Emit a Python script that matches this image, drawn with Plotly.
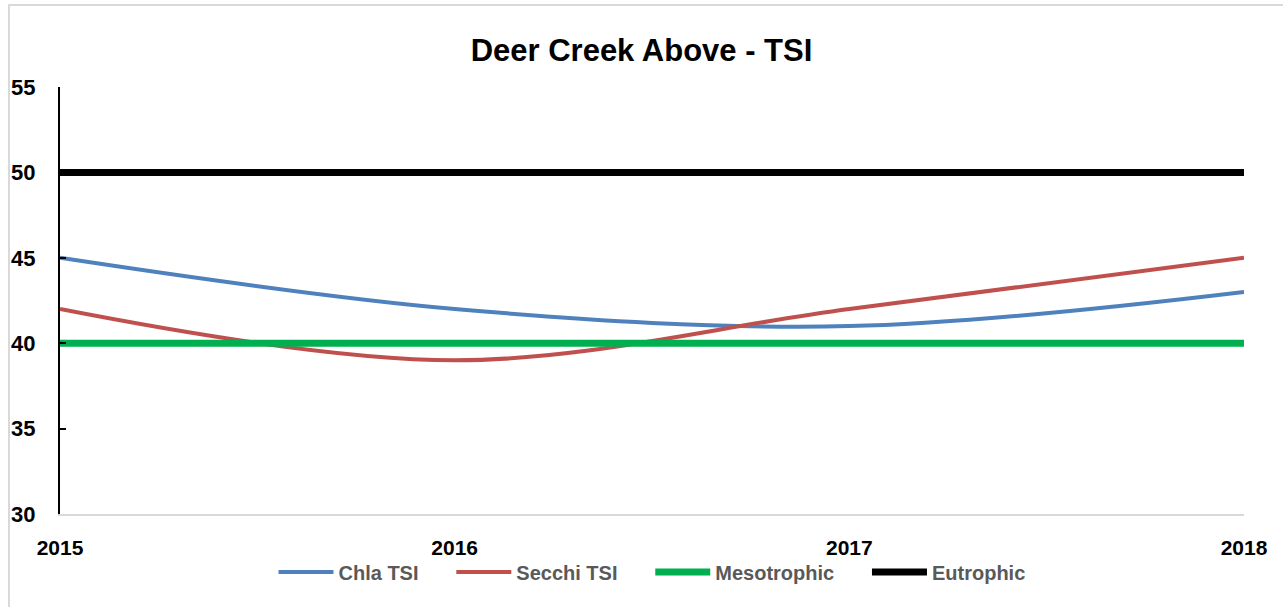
import plotly.graph_objects as go

years = [2015, 2016, 2017, 2018]
chla_tsi = [45, 42, 41, 43]
secchi_tsi = [42, 39, 42, 45]
mesotrophic = [40, 40, 40, 40]
eutrophic = [50, 50, 50, 50]
y_ticks = [30, 35, 40, 45, 50, 55]

FONT = "Liberation Sans, Arial, sans-serif"
SP = "&nbsp;" * 5

fig = go.Figure()
fig.add_trace(go.Scatter(x=years, y=chla_tsi, name="<b>Chla TSI</b>" + SP, mode="lines",
                         line=dict(color="#4F81BD", width=4, shape="spline", smoothing=1)))
fig.add_trace(go.Scatter(x=years, y=secchi_tsi, name="<b>Secchi TSI</b>" + SP, mode="lines",
                         line=dict(color="#C0504D", width=4, shape="spline", smoothing=1)))
fig.add_trace(go.Scatter(x=years, y=mesotrophic, name="<b>Mesotrophic</b>" + SP, mode="lines",
                         line=dict(color="#00B050", width=7)))
fig.add_trace(go.Scatter(x=years, y=eutrophic, name="<b>Eutrophic</b>", mode="lines",
                         line=dict(color="#000000", width=7)))

W, H = 1283, 607
L, R, T, B = 60, 39, 87, 93
pw, ph = W - L - R, H - T - B

fig.update_layout(
    width=W, height=H,
    margin=dict(l=L, r=R, t=T, b=B),
    paper_bgcolor="white", plot_bgcolor="white",
    font=dict(family=FONT, color="black"),
    title=dict(text="<b>Deer Creek Above - TSI</b>", x=0.5, xanchor="center",
               y=1 - 50 / H, yanchor="middle", font=dict(size=31, color="black")),
    xaxis=dict(range=[2015, 2018], tickvals=years, ticktext=[f"<b>{y}</b>" for y in years],
               showgrid=False, zeroline=False, showline=True, linecolor="#D9D9D9", linewidth=2,
               ticks="", tickfont=dict(size=21, color="black"), ticklabelstandoff=14),
    yaxis=dict(range=[30, 55], tickvals=y_ticks, ticktext=[f"<b>{v}</b>" for v in y_ticks],
               showgrid=False, zeroline=False, showline=True, linecolor="black", linewidth=2,
               ticks="inside", ticklen=6, tickcolor="black", tickwidth=2,
               tickfont=dict(size=22, color="black"), ticklabelstandoff=18),
    showlegend=True,
    legend=dict(orientation="h", x=0.5, xanchor="center", y=-(572 - (H - B)) / ph, yanchor="middle",
                font=dict(size=20, color="#595959"), itemwidth=55, tracegroupgap=0,
                bgcolor="rgba(0,0,0,0)"),
    shapes=[dict(type="rect", xref="paper", yref="paper",
                 x0=(9 - L) / pw, x1=(W + 20 - L) / pw,
                 y0=-(H + 20 - (H - B)) / ph, y1=(H - B - 5) / ph,
                 line=dict(color="#D9D9D9", width=2), fillcolor="rgba(0,0,0,0)", layer="below")],
)

fig.write_html("out.html", config={"displayModeBar": False},
               post_script="document.body.style.margin='0';document.body.style.overflow='hidden';")
